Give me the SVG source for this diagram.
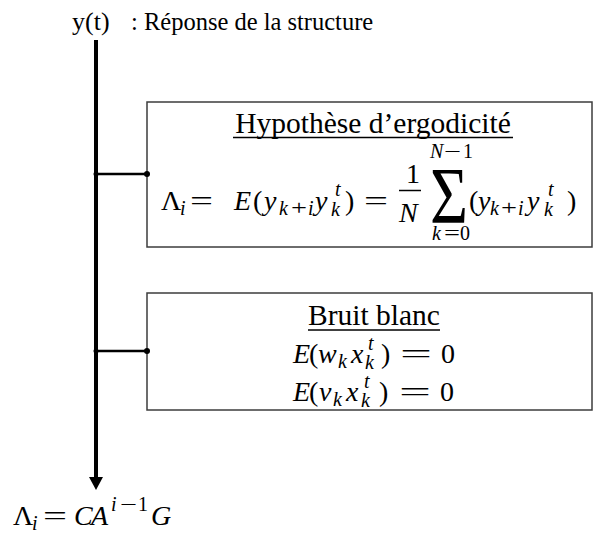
<svg xmlns="http://www.w3.org/2000/svg" width="598" height="534" viewBox="0 0 598 534">
<style>
text{font-family:"Liberation Serif","Times New Roman",serif;fill:#000}
.t{font-size:24.5px}
.h{font-size:29.5px}
.m{font-size:28px}
.s{font-size:20px}
.i{font-style:italic}
.box{fill:#fff;stroke:#3c3c3c;stroke-width:1.5}
.conn{stroke:#000;stroke-width:2.5;fill:none}
.ul{stroke:#000;stroke-width:1.3}
</style>
<rect width="598" height="534" fill="#fff"/>
<g id="title">
<text x="72" y="30" font-size="26">y(t)</text>
<text class="t" x="131" y="30">: Réponse de la structure</text>
</g>
<g id="box-ergodicite">
<rect class="box" x="147" y="102" width="445" height="145"/>
<text class="h" x="373" y="133" text-anchor="middle">Hypothèse d’ergodicité</text>
<line class="ul" x1="233" y1="137.5" x2="513" y2="137.5"/>
<text class="m" x="161" y="210">Λ</text>
<text class="s i" x="180" y="215">i</text>
<text class="m" x="190" y="210" textLength="23" lengthAdjust="spacingAndGlyphs">=</text>
<text class="m i" x="234" y="210">E</text>
<text class="m" x="253" y="210">(</text>
<text class="m i" x="264" y="210">y</text>
<text class="s i" x="279" y="215">k</text>
<text class="s" x="291" y="215" textLength="16" lengthAdjust="spacingAndGlyphs">+</text>
<text class="s i" x="308" y="215">i</text>
<text class="m i" x="315" y="210">y</text>
<text class="s i" x="335" y="196">t</text>
<text class="s i" x="331" y="216">k</text>
<text class="m" x="345" y="210">)</text>
<text class="m" x="364" y="210" textLength="24" lengthAdjust="spacingAndGlyphs">=</text>
<text class="m" x="406" y="183">1</text>
<line x1="399" y1="190.5" x2="421" y2="190.5" stroke="#000" stroke-width="1.5"/>
<text class="m i" x="399" y="222">N</text>
<text x="430" y="223" font-size="80" textLength="38" lengthAdjust="spacingAndGlyphs">Σ</text>
<text class="s i" x="430" y="158">N</text>
<text class="s" x="444" y="158" textLength="17" lengthAdjust="spacingAndGlyphs">−</text>
<text class="s" x="463" y="158">1</text>
<text class="s i" x="432" y="240">k</text>
<text class="s" x="444" y="240" textLength="16" lengthAdjust="spacingAndGlyphs">=</text>
<text class="s" x="460" y="240">0</text>
<text class="m" x="469" y="210">(</text>
<text class="m i" x="478" y="210">y</text>
<text class="s i" x="490" y="215">k</text>
<text class="s" x="501" y="215" textLength="16" lengthAdjust="spacingAndGlyphs">+</text>
<text class="s i" x="518" y="215">i</text>
<text class="m i" x="527" y="210">y</text>
<text class="s i" x="548" y="196">t</text>
<text class="s i" x="544" y="216">k</text>
<text class="m" x="567" y="210">)</text>
</g>
<g id="box-bruit">
<rect class="box" x="147" y="293" width="445" height="117"/>
<text class="h" x="374" y="325" text-anchor="middle">Bruit blanc</text>
<line class="ul" x1="308" y1="330" x2="440" y2="330"/>
<text class="m i" x="293" y="363">E</text>
<text class="m" x="309" y="363">(</text>
<text class="m i" x="318" y="363">w</text>
<text class="s i" x="338" y="368">k</text>
<text class="m i" x="351" y="363">x</text>
<text class="s i" x="368" y="350">t</text>
<text class="s i" x="365" y="369">k</text>
<text class="m" x="381" y="363">)</text>
<text class="m" x="400" y="363" textLength="32" lengthAdjust="spacingAndGlyphs">=</text>
<text class="m" x="441" y="363">0</text>
<text class="m i" x="293" y="401">E</text>
<text class="m" x="309" y="401">(</text>
<text class="m i" x="319" y="401">v</text>
<text class="s i" x="333" y="406">k</text>
<text class="m i" x="346" y="401">x</text>
<text class="s i" x="364" y="388">t</text>
<text class="s i" x="361" y="407">k</text>
<text class="m" x="379" y="401">)</text>
<text class="m" x="399" y="401" textLength="32" lengthAdjust="spacingAndGlyphs">=</text>
<text class="m" x="440" y="401">0</text>
</g>
<g id="result">
<text class="m" x="13" y="525">Λ</text>
<text class="s i" x="32" y="530">i</text>
<text class="m" x="43" y="525" textLength="24" lengthAdjust="spacingAndGlyphs">=</text>
<text class="m i" x="74" y="525">C</text>
<text class="m i" x="91" y="525">A</text>
<text class="s i" x="111" y="511">i</text>
<text class="s" x="120" y="511" textLength="17" lengthAdjust="spacingAndGlyphs">−</text>
<text class="s" x="138" y="511">1</text>
<text class="m i" x="151" y="525">G</text>
</g>
<g id="connectors">
<line x1="96" y1="40" x2="96" y2="479" stroke="#000" stroke-width="4"/>
<polygon points="89,477 103,477 96,490" fill="#000"/>
<line class="conn" x1="96" y1="174" x2="147" y2="174"/>
<circle cx="96" cy="174" r="2.5"/>
<circle cx="147" cy="174" r="3"/>
<line class="conn" x1="96" y1="351" x2="147" y2="351"/>
<circle cx="96" cy="351" r="2.5"/>
<circle cx="147" cy="351" r="3"/>
</g>
</svg>
